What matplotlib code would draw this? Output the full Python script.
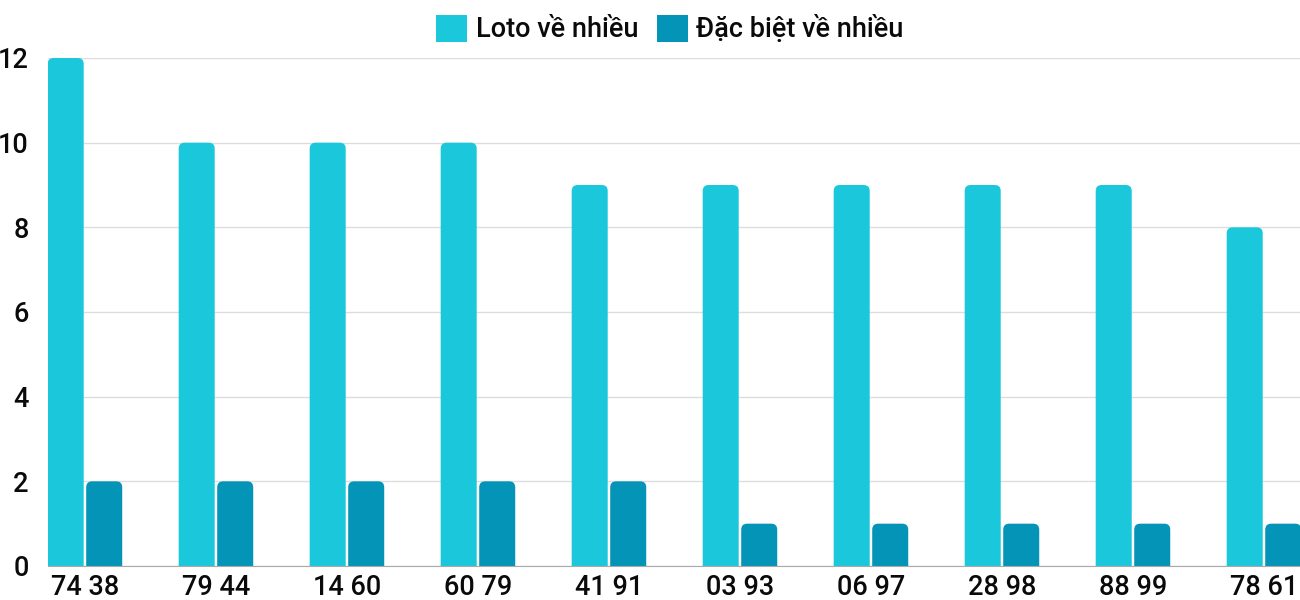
import matplotlib
matplotlib.use("Agg")
import matplotlib.pyplot as plt
from matplotlib.patches import FancyBboxPatch, Patch

# data
pairs = ["74 38", "79 44", "14 60", "60 79", "41 91",
         "03 93", "06 97", "28 98", "88 99", "78 61"]
loto = [12, 10, 10, 10, 9, 9, 9, 9, 9, 8]
dacbiet = [2, 2, 2, 2, 2, 1, 1, 1, 1, 1]

c_loto = "#1bc8db"
c_db = "#0494b8"

plt.rcParams["font.family"] = ["Roboto", "DejaVu Sans"]
plt.rcParams["font.weight"] = "medium"

W, H = 1300, 600
fig = plt.figure(figsize=(W / 100, H / 100), dpi=100)
ax_l, ax_b, ax_w, ax_h = 48, 34, 1252, 508
ax = fig.add_axes([ax_l / W, ax_b / H, ax_w / W, ax_h / H])

xmin, xmax = -0.282, 9.275
ymin, ymax = 0, 12
ax.set_xlim(xmin, xmax)
ax.set_ylim(ymin, ymax)

# pixel -> data scale, used for rounded corners
px_x = (xmax - xmin) / ax_w
px_y = (ymax - ymin) / ax_h
r_px = 6
bw = 0.275
off = 0.147


def rbar(xc, val, color):
    r = r_px * px_x
    p = FancyBboxPatch((xc - bw / 2 + r, -1 + r * px_y / px_x),
                       bw - 2 * r, val + 1 - 2 * r * px_y / px_x,
                       boxstyle="round,pad=%f,rounding_size=%f" % (r, r),
                       mutation_aspect=px_y / px_x,
                       fc=color, ec="none", zorder=3)
    ax.add_patch(p)


for i in range(len(pairs)):
    rbar(i - off, loto[i], c_loto)
    rbar(i + off, dacbiet[i], c_db)

fs = 19.5
ax.set_yticks(range(0, 13, 2))
ax.set_xticks(range(len(pairs)))
ax.set_xticklabels(pairs)
ax.tick_params(axis="y", length=0, pad=14, labelsize=fs, colors="#0a0a0a")
ax.tick_params(axis="x", length=0, pad=6, labelsize=fs, colors="#0a0a0a")
ax.grid(axis="y", color="#dddddd", lw=1, zorder=0)
ax.grid(axis="x", visible=False)
for s in ["top", "right", "left"]:
    ax.spines[s].set_visible(False)
ax.spines["bottom"].set_color("#aaaaaa")
ax.spines["bottom"].set_zorder(4)

handles = [Patch(fc=c_loto, ec="none", label="Loto về nhiều"),
           Patch(fc=c_db, ec="none", label="Đặc biệt về nhiều")]
fig.legend(handles=handles, loc="center", bbox_to_anchor=(670 / W, 1 - 29 / H),
           ncol=2, frameon=False, fontsize=fs, handlelength=1.15,
           handleheight=1.15, handletextpad=0.3, columnspacing=0.7,
           labelcolor="#0a0a0a")

fig.savefig("out.png", dpi=100)
